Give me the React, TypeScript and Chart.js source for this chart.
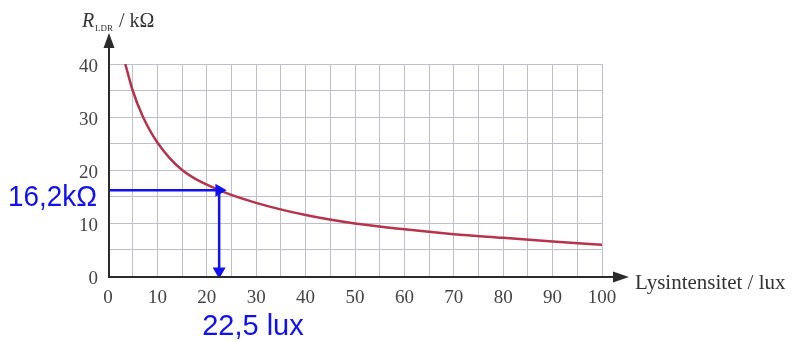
import React, { useEffect, useRef } from "react";
import { Chart, registerables } from "chart.js";

Chart.register(...registerables);

const luxValues = [3.5, 5, 7, 10, 15, 22.5, 30, 40, 50, 60, 70, 80, 90, 100];
const resistanceValues = [40, 35, 30.2, 25.2, 20, 16.2, 13.8, 11.5, 9.9, 8.8, 7.9, 7.2, 6.5, 5.9];
const readLux = 22.5;
const readResistance = 16.2;
const readLuxLabel = "22,5 lux";
const readResistanceLabel = "16,2k\u03A9";
const xAxisTitle = "Lysintensitet / lux";

const serif = "'Liberation Serif', 'Times New Roman', serif";
const sans = "'Liberation Sans', Arial, sans-serif";

const annotationPlugin = {
  id: "annot",
  afterDraw(chart: any) {
    const { ctx, chartArea } = chart;
    const { left, right, top, bottom } = chartArea;
    const xs = chart.scales.x;
    const ys = chart.scales.y;
    ctx.save();
    ctx.strokeStyle = "#2b2b2b";
    ctx.fillStyle = "#2b2b2b";
    ctx.lineWidth = 2;
    ctx.beginPath();
    ctx.moveTo(left + 1, bottom + 1);
    ctx.lineTo(left + 1, top - 20);
    ctx.moveTo(left, bottom + 1);
    ctx.lineTo(right + 14, bottom + 1);
    ctx.stroke();
    ctx.beginPath();
    ctx.moveTo(left + 1, top - 31);
    ctx.lineTo(left - 4.5, top - 16);
    ctx.lineTo(left + 6.5, top - 16);
    ctx.closePath();
    ctx.fill();
    ctx.beginPath();
    ctx.moveTo(right + 27, bottom + 1);
    ctx.lineTo(right + 11, bottom - 4.5);
    ctx.lineTo(right + 11, bottom + 6.5);
    ctx.closePath();
    ctx.fill();

    ctx.fillStyle = "#333";
    ctx.textBaseline = "alphabetic";
    ctx.textAlign = "left";
    ctx.font = `italic 20px ${serif}`;
    ctx.fillText("R", 82, 27);
    ctx.font = `9px ${serif}`;
    ctx.fillText("LDR", 95, 31);
    ctx.font = `20px ${serif}`;
    ctx.fillText("/ k\u03A9", 119, 27);
    ctx.font = `21px ${serif}`;
    ctx.fillText(xAxisTitle, right + 33, bottom + 13);

    ctx.fillStyle = "#1010f0";
    ctx.font = `30px ${sans}`;
    ctx.textAlign = "right";
    const yp = ys.getPixelForValue(readResistance);
    ctx.fillText(readResistanceLabel, left - 11, yp + 16, 89);
    ctx.textAlign = "left";
    ctx.font = `29px ${sans}`;
    const xp = xs.getPixelForValue(readLux);
    ctx.fillText(readLuxLabel, xp - 17, 335);
    ctx.restore();
  },
};

export default function App() {
  const ref = useRef<HTMLCanvasElement | null>(null);
  useEffect(() => {
    if (!ref.current) return;
    const curve = luxValues.map((x, i) => ({ x, y: resistanceValues[i] }));
    const chart = new Chart(ref.current, {
      type: "line",
      data: {
        datasets: [
          {
            data: curve,
            borderColor: "#b5344b",
            borderWidth: 2.5,
            pointRadius: 0,
            cubicInterpolationMode: "monotone",
            order: 1,
          },
          {
            data: [
              { x: 0, y: readResistance },
              { x: readLux, y: readResistance },
            ],
            borderColor: "#1010f0",
            backgroundColor: "#1010f0",
            borderWidth: 2.5,
            pointRadius: [0, 5],
            pointStyle: "triangle",
            pointRotation: 90,
            order: 0,
          },
          {
            data: [
              { x: readLux, y: readResistance },
              { x: readLux, y: 0.9 },
            ],
            borderColor: "#1010f0",
            backgroundColor: "#1010f0",
            borderWidth: 2.5,
            pointRadius: [0, 5],
            pointStyle: "triangle",
            pointRotation: 180,
            order: 0,
          },
        ],
      },
      options: {
        animation: false,
        responsive: false,
        plugins: { legend: { display: false }, tooltip: { enabled: false } },
        layout: { padding: { top: 64, right: 196, left: 0, bottom: 0 } },
        scales: {
          x: {
            type: "linear",
            min: 0,
            max: 100,
            border: { display: false },
            grid: { color: "#bfbfcc", lineWidth: 1, drawTicks: false },
            ticks: {
              stepSize: 5,
              padding: 11,
              color: "#444",
              font: { family: serif, size: 19 },
              maxRotation: 0,
              autoSkip: false,
              callback: (v: any) => (Number(v) % 10 === 0 ? String(v) : ""),
            },
            afterFit: (s: any) => {
              s.height = 66;
            },
          },
          y: {
            type: "linear",
            min: 0,
            max: 40,
            border: { display: false },
            grid: { color: "#bfbfcc", lineWidth: 1, drawTicks: false },
            ticks: {
              stepSize: 5,
              padding: 10,
              labelOffset: 3,
              color: "#444",
              font: { family: serif, size: 19 },
              autoSkip: false,
              callback: (v: any) => (Number(v) % 10 === 0 ? String(v) : ""),
            },
            afterFit: (s: any) => {
              s.width = 108;
            },
          },
        },
      },
      plugins: [annotationPlugin],
    } as any);
    return () => chart.destroy();
  }, []);
  return (
    <div style={{ position: "fixed", left: 0, top: 0, width: 798, height: 342, background: "#fff" }}>
      <canvas ref={ref} width={798} height={342} style={{ display: "block" }} />
    </div>
  );
}
